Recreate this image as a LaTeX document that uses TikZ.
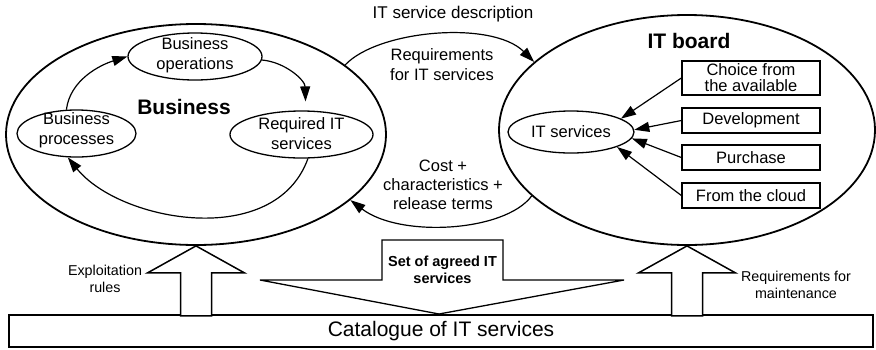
\documentclass[tikz,border=0pt]{standalone}
\usepackage{fontspec}
\setmainfont{Liberation Sans}
\usetikzlibrary{shapes.geometric,arrows.meta,calc}
\begin{document}
\begin{tikzpicture}[x=1pt,y=1pt,
  oval/.style={draw, ellipse, inner sep=0pt, line width=1.3pt},
  bigoval/.style={draw, ellipse, inner sep=0pt, line width=1.8pt},
  txt/.style={align=center, inner sep=0pt, font=\fontsize{16.5}{20}\selectfont},
  small/.style={align=center, inner sep=0pt, font=\fontsize{14.3}{17}\selectfont},
  heading/.style={inner sep=0pt, font=\bfseries\fontsize{21}{24}\selectfont},
  boxnode/.style={draw, line width=1.3pt, minimum width=138, inner sep=0pt,
    align=center, font=\fontsize{16.5}{16}\selectfont},
  arr/.style={line width=1.2pt, -{Triangle[length=15pt,width=10pt]}},
  hollow/.style={draw, fill=white, line width=1.5pt, line join=miter},
]
\useasboundingbox (0,0) rectangle (876,-349);

% the two domains
\node[bigoval, minimum width=380, minimum height=221] (L) at (196,-134.5) {};
\node[bigoval, minimum width=376, minimum height=230] (R) at (687,-130) {};

% business cycle
\node[heading] (biz) at (184,-107) {Business};
\node[oval, minimum width=134, minimum height=47] (ops) at (195,-56.5) {};
\node[txt] (opsT) at (195,-55) {Business\\operations};
\node[oval, minimum width=119, minimum height=47] (proc) at (76.5,-133.5) {};
\node[txt] (procT) at (76.5,-130) {Business\\processes};
\node[oval, minimum width=143, minimum height=47] (req) at (301.5,-134.5) {};
\node[txt] (reqT) at (301.5,-134) {Required IT\\services};

\draw[arr] (proc.113) .. controls (70,-80) and (100,-65) .. (ops.west);
\draw[arr, shorten >=9pt] (ops.-3) .. controls (285,-62) and (305,-80) .. (req.80);
\draw[arr] (req.-75) .. controls (275,-250) and (120,-222) .. (proc.-110);

% exchange between business and IT
\node[font=\fontsize{17}{20}\selectfont, inner sep=0pt] (desc) at (453,-14) {IT service description};
\draw[arr] (L.25) .. controls (378,-30) and (492,-20) .. (R.156.5);
\node[txt] (reqIT) at (442,-65) {Requirements\\for IT services};
\draw[arr] (R.203.5) .. controls (505,-232) and (400,-238) .. (L.-23);
\node[txt, font=\fontsize{16.5}{19}\selectfont] (cost) at (443,-185) {Cost +\\characteristics +\\release terms};

% IT board
\node[heading] (board) at (689,-41) {IT board};
\node[oval, minimum width=126, minimum height=42] (its) at (571,-132) {};
\node[txt] (itsT) at (571,-132) {IT services};
\node[boxnode, minimum height=34] (choice) at (751,-78) {Choice from\\the available};
\node[boxnode, minimum height=25] (dev) at (751,-120.5) {Development};
\node[boxnode, minimum height=25] (pur) at (751,-157.5) {Purchase};
\node[boxnode, minimum height=25] (cloud) at (751,-195.5) {From the cloud};
\draw[arr] (choice.west) -- (its.15);
\draw[arr] (dev.west) -- (its.2);
\draw[arr] (pur.west) -- (its.-6);
\draw[arr] (cloud.west) -- (its.-18);

% catalogue and the flows into it
\node[draw, line width=1.5pt, minimum width=864, minimum height=32, inner sep=0pt,
  font=\fontsize{21}{24}\selectfont] (cat) at (441,-331) {Catalogue of IT services};

\draw[hollow] (L.south) -- ++(48.5,-27) -- ++(-33,0) -- ++(0,-43) -- ++(-31,0)
  -- ++(0,43) -- ++(-33,0) -- cycle;
\draw[hollow] (R.south) -- ++(48.5,-27) -- ++(-33,0) -- ++(0,-43) -- ++(-31,0)
  -- ++(0,43) -- ++(-33,0) -- cycle;
\node[small] (expl) at (105,-279) {Exploitation\\rules};
\node[small] (maint) at (796,-285) {Requirements for\\maintenance};

\draw[line width=1.3pt, fill=white, line join=miter]
  (382,-240) -- (503,-240) -- (503,-280) -- (624,-280) -- (439,-314)
  -- (260,-280) -- (382,-280) -- cycle;
\node[align=center, inner sep=0pt, font=\bfseries\fontsize{14.5}{17}\selectfont]
  (agreed) at (442.5,-269.5) {Set of agreed IT\\services};
\end{tikzpicture}
\end{document}
